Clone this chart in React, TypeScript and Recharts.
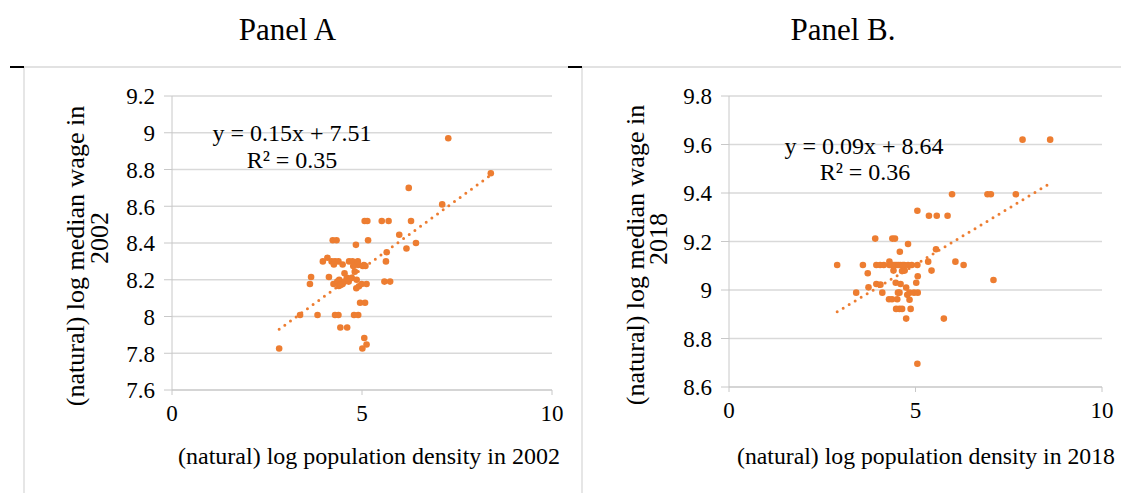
import { ScatterChart, Scatter, XAxis, YAxis, CartesianGrid, ReferenceLine } from "recharts"

const ORANGE = "#ED7D31"
const GRID = "#D9D9D9"
const AXIS = "#C8C8C8"
const FONT = "Liberation Serif, DejaVu Serif, Times New Roman, serif"

const xTicks = [0, 5, 10]
const yTicksA = [7.6, 7.8, 8, 8.2, 8.4, 8.6, 8.8, 9, 9.2]
const yTicksB = [8.6, 8.8, 9, 9.2, 9.4, 9.6, 9.8]

// Panel A: 2002
const density2002 = [
  7.27, 8.39, 6.23, 7.11, 5.07, 5.14, 5.52, 5.7, 6.29, 5.98, 6.17, 6.42, 4.23, 4.33, 4.84, 5.16,
  5.65, 5.63, 5.59, 5.74, 3.97, 4.09, 4.2, 4.29, 4.38, 4.49, 4.26, 4.66, 4.75, 4.89, 5.05, 4.81,
  4.9, 4.54, 3.66, 3.63, 4.13, 4.25, 4.4, 4.49, 4.6, 4.73, 4.86, 4.92, 4.99, 5.12, 4.95, 5.08,
  3.37, 3.83, 4.29, 4.38, 4.79, 4.9, 4.43, 4.61, 5.06, 5.12, 5.01, 2.82, 4.35, 4.54, 4.65, 4.39,
  4.85, 5.02, 5.09, 4.77, 4.44,
]
const wage2002 = [
  8.97, 8.78, 8.7, 8.61, 8.52, 8.52, 8.52, 8.52, 8.52, 8.445, 8.37, 8.4, 8.415, 8.415, 8.39, 8.415,
  8.35, 8.3, 8.19, 8.19, 8.3, 8.32, 8.3, 8.3, 8.3, 8.283, 8.283, 8.3, 8.3, 8.3, 8.28, 8.244,
  8.28, 8.235, 8.215, 8.177, 8.215, 8.177, 8.2, 8.177, 8.21, 8.21, 8.2, 8.165, 8.177, 8.177, 8.075, 8.075,
  8.008, 8.008, 8.008, 8.008, 8.008, 8.008, 7.94, 7.94, 7.883, 7.848, 7.826, 7.826, 8.19, 8.19, 8.19, 8.166,
  8.154, 8.275, 8.275, 8.275, 8.172,
]
const trendA = [
  { x: 2.82, y: 7.93 },
  { x: 8.39, y: 8.77 },
]

// Panel B: 2018
const density2018 = [
  7.87, 8.61, 5.98, 6.93, 7.02, 7.69, 5.05, 5.36, 5.57, 5.86, 3.92, 4.38, 4.45, 4.8, 4.58, 5.55,
  2.9, 3.59, 3.95, 4.05, 4.15, 4.3, 4.4, 4.5, 4.6, 4.7, 4.8, 4.9, 5.05, 4.3, 5.34, 6.07,
  6.29, 3.72, 4.41, 4.64, 4.71, 5.43, 5.06, 7.09, 3.95, 4.06, 4.47, 4.6, 5.02, 3.74, 3.41, 4.11,
  4.53, 4.57, 4.75, 4.78, 4.84, 4.96, 5.06, 4.29, 4.37, 4.51, 4.84, 4.48, 4.57, 4.64, 4.87, 4.75,
  5.76, 5.05, 4.36, 4.45, 4.55, 4.66,
]
const wage2018 = [
  9.62, 9.62, 9.395, 9.395, 9.395, 9.395, 9.327, 9.306, 9.306, 9.306, 9.212, 9.212, 9.212, 9.19, 9.158, 9.168,
  9.103, 9.103, 9.103, 9.103, 9.103, 9.103, 9.103, 9.103, 9.103, 9.103, 9.103, 9.103, 9.103, 9.117, 9.117, 9.117,
  9.103, 9.069, 9.08, 9.078, 9.08, 9.08, 9.057, 9.041, 9.025, 9.022, 9.03, 9.025, 9.03, 9.011, 8.989, 8.989,
  8.989, 8.989, 9.01, 8.98, 8.989, 8.989, 8.989, 8.962, 8.962, 8.962, 8.96, 8.922, 8.922, 8.922, 8.922, 8.882,
  8.882, 8.696, 9.103, 9.103, 9.103, 9.103,
]
const trendB = [
  { x: 2.9, y: 8.91 },
  { x: 8.61, y: 9.44 },
]

const pointsA = density2002.map((x, i) => ({ x, y: wage2002[i] }))
const pointsB = density2018.map((x, i) => ({ x, y: wage2018[i] }))

const txt = { fontFamily: FONT }

function fmt(v: number) {
  return String(Math.round(v * 10) / 10)
}

function XTick({ x, y, payload }: any) {
  return (
    <text x={x} y={y} dy="0.71em" textAnchor="middle" fontSize={23} fill="#000" style={txt}>
      {fmt(payload.value)}
    </text>
  )
}

function YTick({ x, y, payload }: any) {
  return (
    <text x={x} y={y} dy="0.36em" textAnchor="end" fontSize={23} fill="#000" style={txt}>
      {fmt(payload.value)}
    </text>
  )
}

function Dot(props: any) {
  return <circle cx={props.cx} cy={props.cy} r={3.3} fill={ORANGE} />
}

function Panel({ width, margin, data, trend, yTicks }: any) {
  return (
    <ScatterChart width={width} height={493} margin={margin}>
      <CartesianGrid vertical={false} stroke={GRID} strokeWidth={1.3} />
      <XAxis
        type="number"
        dataKey="x"
        domain={[0, 10]}
        ticks={xTicks}
        interval={0}
        height={30}
        tickSize={5}
        tickMargin={10}
        stroke={AXIS}
        tick={<XTick />}
      />
      <YAxis
        type="number"
        dataKey="y"
        domain={[yTicks[0], yTicks[yTicks.length - 1]]}
        ticks={yTicks}
        interval={0}
        width={60}
        tickSize={8}
        tickMargin={9}
        stroke={AXIS}
        tick={<YTick />}
      />
      <ReferenceLine
        segment={trend}
        stroke={ORANGE}
        strokeWidth={3}
        strokeDasharray="0 7"
        strokeLinecap="round"
        ifOverflow="visible"
      />
      <Scatter data={data} fill={ORANGE} shape={Dot} isAnimationActive={false} />
    </ScatterChart>
  )
}

export default function App() {
  return (
    <div
      style={{
        position: "absolute",
        left: 0,
        top: 0,
        width: 1121,
        height: 493,
        background: "#fff",
        fontFamily: FONT,
      }}
    >
      <div style={{ position: "absolute", left: 0, top: 0 }}>
        <Panel
          width={582}
          margin={{ top: 96, right: 30, bottom: 73, left: 112 }}
          data={pointsA}
          trend={trendA}
          yTicks={yTicksA}
        />
      </div>
      <div style={{ position: "absolute", left: 582, top: 0 }}>
        <Panel
          width={539}
          margin={{ top: 96, right: 19, bottom: 76, left: 87 }}
          data={pointsB}
          trend={trendB}
          yTicks={yTicksB}
        />
      </div>
      <svg
        width={1121}
        height={493}
        style={{ position: "absolute", left: 0, top: 0, pointerEvents: "none", fontFamily: FONT }}
      >
        {/* panel frames */}
        <line x1={24} y1={67} x2={582} y2={67} stroke={GRID} strokeWidth={1.3} />
        <line x1={582} y1={67} x2={1121} y2={67} stroke={GRID} strokeWidth={1.3} />
        <line x1={24} y1={67} x2={24} y2={493} stroke={GRID} strokeWidth={1.3} />
        <line x1={582} y1={67} x2={582} y2={493} stroke={GRID} strokeWidth={1.3} />
        <line x1={10} y1={67} x2={24} y2={67} stroke="#000" strokeWidth={2} />
        <line x1={568} y1={67} x2={582} y2={67} stroke="#000" strokeWidth={2} />

        {/* titles */}
        <text x={287.5} y={40} textAnchor="middle" fontSize={31} style={txt}>Panel A</text>
        <text x={843} y={40} textAnchor="middle" fontSize={31} style={txt}>Panel B.</text>

        {/* equations */}
        <text x={292} y={141} textAnchor="middle" fontSize={24} style={txt}>y = 0.15x + 7.51</text>
        <text x={292} y={168} textAnchor="middle" fontSize={24} style={txt}>R² = 0.35</text>
        <text x={864} y={154} textAnchor="middle" fontSize={24} style={txt}>y = 0.09x + 8.64</text>
        <text x={865} y={180} textAnchor="middle" fontSize={24} style={txt}>R² = 0.36</text>

        {/* y axis titles */}
        <text transform="translate(84,256) rotate(-90)" textAnchor="middle" fontSize={26} style={txt}>
          (natural) log median wage in
        </text>
        <text transform="translate(108,238) rotate(-90)" textAnchor="middle" fontSize={26} style={txt}>
          2002
        </text>
        <text transform="translate(644,255) rotate(-90)" textAnchor="middle" fontSize={26} style={txt}>
          (natural) log median wage in
        </text>
        <text transform="translate(667,239) rotate(-90)" textAnchor="middle" fontSize={26} style={txt}>
          2018
        </text>

        {/* x axis titles */}
        <text x={369} y={464} textAnchor="middle" fontSize={24} textLength={382} lengthAdjust="spacingAndGlyphs" style={txt}>
          (natural) log population density in 2002
        </text>
        <text x={926} y={464} textAnchor="middle" fontSize={24} textLength={378} lengthAdjust="spacingAndGlyphs" style={txt}>
          (natural) log population density in 2018
        </text>
      </svg>
    </div>
  )
}
